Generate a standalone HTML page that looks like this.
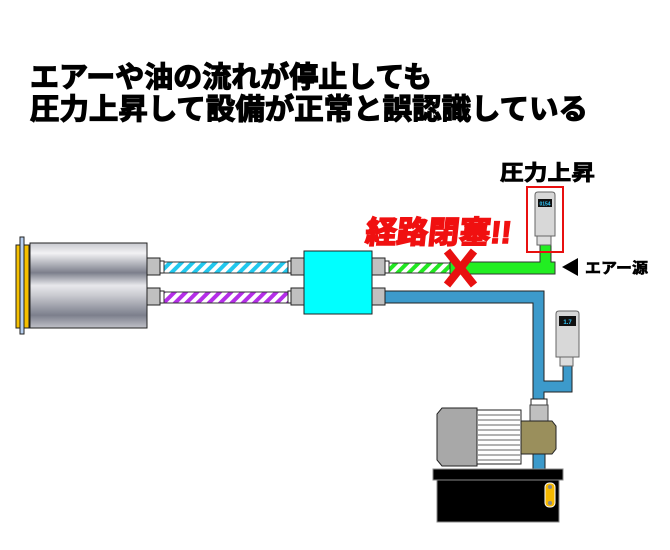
<!DOCTYPE html>
<html><head><meta charset="utf-8"><style>
html,body{margin:0;padding:0;background:#fff;}
svg{display:block;}
text{font-family:"Liberation Sans","Noto Sans CJK JP",sans-serif;font-weight:bold;}
</style></head><body>
<svg width="670" height="550" viewBox="0 0 670 550" xmlns="http://www.w3.org/2000/svg">
<defs>
<linearGradient id="metal" x1="0" y1="0" x2="0" y2="1">
<stop offset="0" stop-color="#c8c9cf"/><stop offset="0.12" stop-color="#f2f2f4"/>
<stop offset="0.35" stop-color="#7c7f8c"/><stop offset="0.5" stop-color="#e8e8ec"/>
<stop offset="0.62" stop-color="#c8c9cf"/><stop offset="0.85" stop-color="#7c7f8c"/>
<stop offset="1" stop-color="#c0c1c8"/></linearGradient>
<pattern id="hc" width="8" height="8" patternUnits="userSpaceOnUse" patternTransform="rotate(45)"><rect width="8" height="8" fill="#fff"/><rect width="4" height="8" fill="#22c8ee"/></pattern>
<pattern id="hp" width="8" height="8" patternUnits="userSpaceOnUse" patternTransform="rotate(45)"><rect width="8" height="8" fill="#fff"/><rect width="4" height="8" fill="#b52ee8"/></pattern>
<pattern id="hg" width="8" height="8" patternUnits="userSpaceOnUse" patternTransform="rotate(45)"><rect width="8" height="8" fill="#fff"/><rect width="4" height="8" fill="#22e822"/></pattern>
</defs>
<g stroke="#000" stroke-width="1.2">
<text x="30" y="87" font-size="29" textLength="402" lengthAdjust="spacingAndGlyphs">エアーや油の流れが停止しても</text>
<text x="30" y="119" font-size="29" textLength="558" lengthAdjust="spacingAndGlyphs">圧力上昇して設備が正常と誤認識している</text>
<text x="500" y="180" font-size="21" textLength="95" lengthAdjust="spacingAndGlyphs" stroke-width="0.8">圧力上昇</text>
<text x="585" y="273" font-size="15" textLength="63" lengthAdjust="spacingAndGlyphs" stroke-width="0.6">エアー源</text>
</g>

<!-- cylinder -->
<rect x="16" y="245" width="5" height="83" fill="#f5c000" stroke="#222"/>
<rect x="20" y="237" width="4" height="97" fill="#b8d0f0" stroke="#222"/>
<rect x="24" y="245" width="5" height="83" fill="#f5c000" stroke="#222"/>
<rect x="30" y="243" width="117" height="85" fill="url(#metal)" stroke="#222"/>
<g stroke="#222" fill="#c0c0c0">
<rect x="147" y="258" width="13" height="17"/><rect x="160" y="261" width="4" height="12" fill="#fff"/>
<rect x="147" y="288" width="13" height="17"/><rect x="160" y="291" width="4" height="12" fill="#fff"/>
</g>
<rect x="164" y="262" width="124" height="11" fill="url(#hc)" stroke="#333"/>
<rect x="164" y="292" width="124" height="11" fill="url(#hp)" stroke="#333"/>
<g stroke="#222" fill="#c0c0c0">
<rect x="288" y="261" width="4" height="12" fill="#fff"/><rect x="291" y="258" width="13" height="17"/>
<rect x="288" y="291" width="4" height="12" fill="#fff"/><rect x="291" y="288" width="13" height="17"/>
</g>
<rect x="304" y="251" width="68" height="63" fill="#00ffff" stroke="#222"/>
<g stroke="#222" fill="#c0c0c0">
<rect x="372" y="258" width="13" height="17"/><rect x="385" y="261" width="4" height="12" fill="#fff"/>
<rect x="372" y="288" width="13" height="17"/>
</g>
<rect x="389" y="263" width="62" height="10" fill="url(#hg)" stroke="#333"/>
<path d="M450 262 H540 V245 H551 V262 H555 V274 H450 Z" fill="#22ee22" stroke="#333"/>
<path d="M385 291 H544 V381 H563 V358 H572 V392 H544 V400 H533 V303 H385 Z" fill="#3c9acb" stroke="#222"/>
<rect x="533" y="453" width="12" height="17" fill="#3c9acb" stroke="#222"/>
<g stroke="#e81010" stroke-width="8" stroke-linecap="butt">
<line x1="447" y1="251" x2="474" y2="285"/><line x1="474" y1="251" x2="447" y2="285"/></g>
<text x="365" y="243" font-size="31" fill="#f01010" stroke="#f01010" stroke-width="1.6" transform="skewX(-6) translate(25 0)" textLength="146" lengthAdjust="spacingAndGlyphs">経路閉塞!!</text>
<!-- gauge 1 -->
<rect x="527" y="187" width="36" height="65" fill="none" stroke="#e81010" stroke-width="2"/>
<rect x="537" y="236" width="14" height="9" fill="#ddd" stroke="#666"/>
<path d="M535 195 Q535 192 538 192 H552 Q555 192 555 195 V236 H535 Z" fill="#d8d8d8" stroke="#666"/>
<rect x="538" y="199" width="14" height="8" fill="#111"/>
<text x="545" y="205.5" font-size="5" fill="#3cf" text-anchor="middle">0154</text>
<path d="M562 267 L578 258 V276 Z" fill="#000"/>
<!-- gauge 2 -->
<rect x="560" y="357" width="13" height="9" fill="#ddd" stroke="#666"/>
<path d="M556 314 Q556 311 559 311 H576 Q579 311 579 314 V357 H556 Z" fill="#d8d8d8" stroke="#666"/>
<rect x="559" y="316" width="17" height="10" fill="#111"/>
<text x="567.5" y="324" font-size="6" fill="#3cf" text-anchor="middle">1.7</text>
<!-- pump -->
<rect x="531" y="399" width="16" height="7" fill="#fff" stroke="#222"/>
<rect x="530" y="405" width="18" height="16" fill="#c0c0c0" stroke="#444"/>
<path d="M442 408 H477 V466 H442 L437 460 V414 Z" fill="#a8a8a8" stroke="#222"/>
<rect x="477" y="410" width="44" height="54" fill="#fff" stroke="#222"/>
<g stroke="#999" stroke-width="1.5">
<line x1="478" y1="415" x2="520" y2="415"/><line x1="478" y1="420" x2="520" y2="420"/><line x1="478" y1="425" x2="520" y2="425"/><line x1="478" y1="430" x2="520" y2="430"/><line x1="478" y1="435" x2="520" y2="435"/><line x1="478" y1="440" x2="520" y2="440"/><line x1="478" y1="445" x2="520" y2="445"/><line x1="478" y1="450" x2="520" y2="450"/><line x1="478" y1="455" x2="520" y2="455"/><line x1="478" y1="460" x2="520" y2="460"/></g>
<path d="M521 421 H552 L556 426 V449 L552 454 H521 Z" fill="#9a8f5c" stroke="#222"/>
<rect x="433" y="469" width="130" height="11" fill="#000" stroke="#888"/>
<rect x="437" y="480" width="122" height="42" fill="#000" stroke="#888"/>
<rect x="545" y="483" width="10" height="24" rx="4" fill="#f5b800" stroke="#fff"/>
<circle cx="550" cy="487" r="2" fill="#888"/><circle cx="550" cy="503" r="2" fill="#888"/>
</svg>
</body></html>
